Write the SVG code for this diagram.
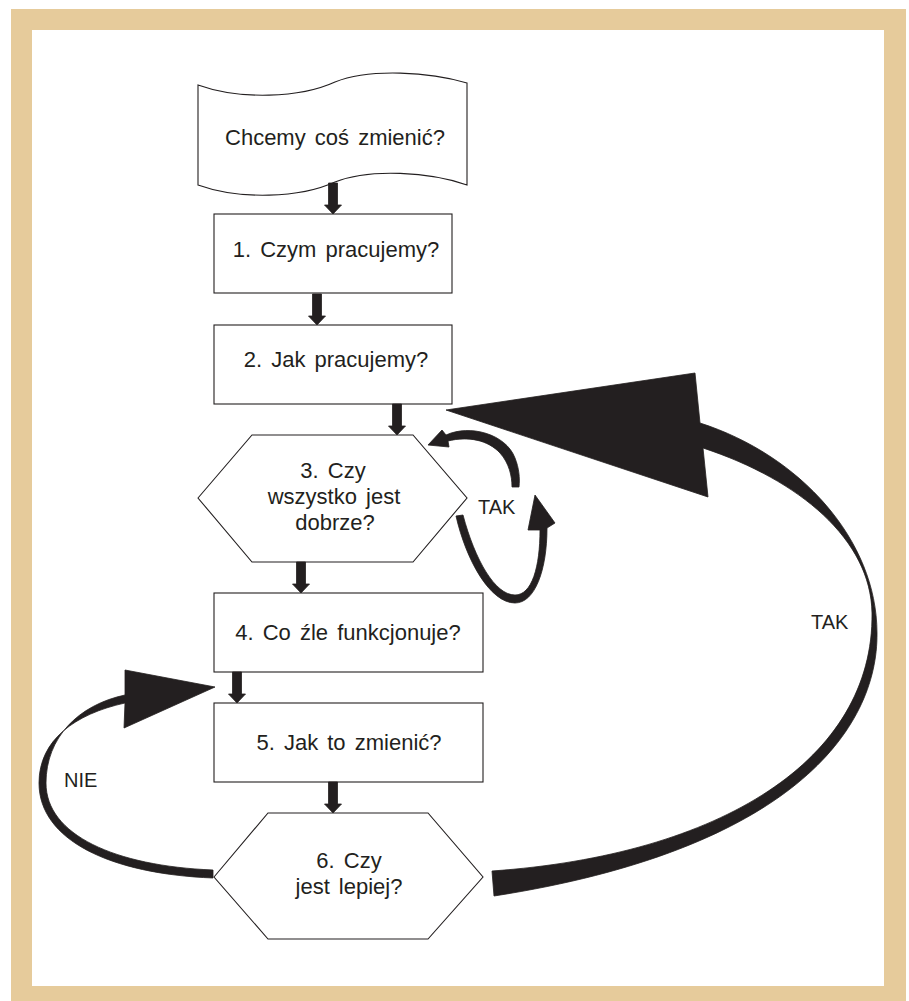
<svg xmlns="http://www.w3.org/2000/svg" width="909" height="1001" viewBox="0 0 909 1001">
<style>
.frame{fill:#E6CB9B}
.node{fill:#fff;stroke:#231F20;stroke-width:1.1}
.t{font-family:"Liberation Sans",Arial,sans-serif;font-size:22px;fill:#231F20;text-anchor:middle;word-spacing:3px}
.lbl{font-family:"Liberation Sans",Arial,sans-serif;font-size:20px;fill:#231F20}
.ink{fill:#231F20;stroke:#231F20;stroke-width:0.8;stroke-linejoin:miter}
</style>
<defs>
<path id="darr" d="M-4.5,0 L4.5,0 L4.5,22 L8.5,22 L0,31 L-8.5,22 L-4.5,22 Z"/>
</defs>
<rect class="frame" x="11" y="9" width="895" height="992"/>
<rect x="32" y="30" width="852" height="956" fill="#fff"/>

<g id="start">
<path class="node" d="M198,85 C240,100 300,98 335,82 C370,68 430,72 467,83 L467,185 C430,172 370,168 335,182 C300,198 240,200 198,185 Z"/>
<text class="t" x="335" y="145">Chcemy coś zmienić?</text>
</g>
<g id="n1">
<rect class="node" x="214" y="214" width="238" height="79"/>
<text class="t" x="336" y="257">1. Czym pracujemy?</text>
</g>
<g id="n2">
<rect class="node" x="214" y="325" width="238" height="79"/>
<text class="t" x="336" y="367">2. Jak pracujemy?</text>
</g>
<g id="n3">
<polygon class="node" points="198,498 252,435 413,435 467,498 413,562 252,562"/>
<text class="t" x="333" y="478">3. Czy</text>
<text class="t" x="334" y="504">wszystko jest</text>
<text class="t" x="335" y="530">dobrze?</text>
</g>
<g id="n4">
<rect class="node" x="214" y="593" width="269" height="79"/>
<text class="t" x="348" y="640">4. Co źle funkcjonuje?</text>
</g>
<g id="n5">
<rect class="node" x="214" y="703" width="269" height="79"/>
<text class="t" x="349" y="750">5. Jak to zmienić?</text>
</g>
<g id="n6">
<polygon class="node" points="214,877 268,813 428,813 483,877 428,939 268,939"/>
<text class="t" x="349" y="868">6. Czy</text>
<text class="t" x="349" y="894">jest lepiej?</text>
</g>

<g id="connectors">
<use href="#darr" class="ink" x="333" y="183"/>
<use href="#darr" class="ink" x="317" y="294"/>
<use href="#darr" class="ink" x="397" y="404"/>
<use href="#darr" class="ink" x="301" y="562"/>
<use href="#darr" class="ink" x="237" y="672"/>
<use href="#darr" class="ink" x="333" y="782"/>
<!-- small TAK loop -->
<path class="ink" d="M428,445 L442,430 L446,435 C470,424 506,434 515,458 C519,468 520,478 519,487 L512,487 C512,476 509,463 500,453 C488,440 468,436 448,441 L449,447 Z"/>
<path class="ink" d="M456,516 C466,560 490,603 515,603 C535,603 547,570 547,528 L555,523 L535,495 L528,530 L540,530 C540,567 532,595 515,595 C495,595 475,560 463,515 Z"/>
<!-- NIE loop -->
<path class="ink" d="M213,878 C110,874 39,840 39,783 C39,740 75,714 125,703 L124,728 L215,687 L125,670 L125,695 C78,705 46,738 46,783 C46,835 115,866 213,870 Z"/>
<!-- big TAK loop -->
<path class="ink" d="M446,410 L695,373 L700,423 C800,455 877,540 877,633 C878,730 790,850 494,896 L492,871 C720,855 874,760 872,613 C871,540 800,480 703,448 L708,497 Z"/>
<text class="lbl" x="478" y="514">TAK</text>
<text class="lbl" x="811" y="629">TAK</text>
<text class="lbl" x="64" y="787">NIE</text>
</g>
</svg>
